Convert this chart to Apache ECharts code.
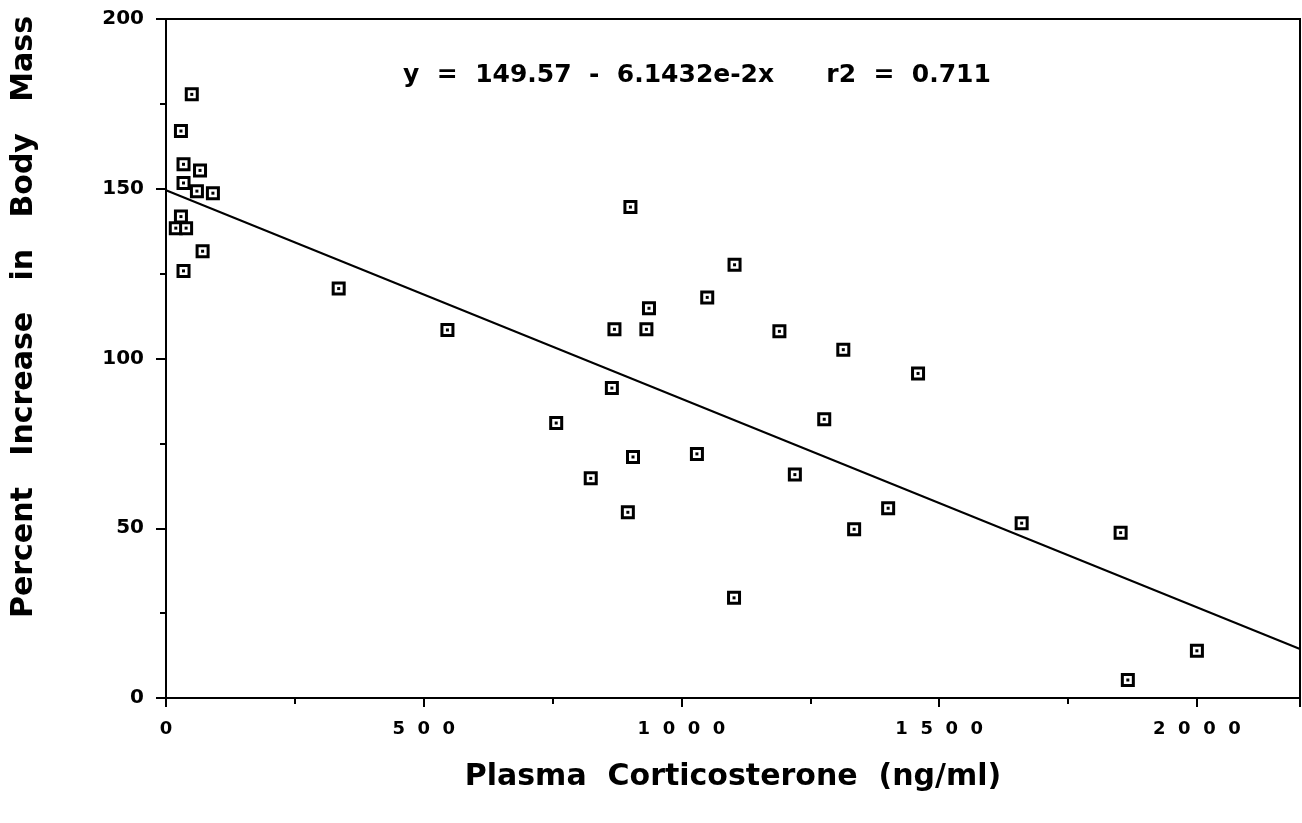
<!DOCTYPE html>
<html>
<head>
<meta charset="utf-8">
<script src="https://cdn.jsdelivr.net/npm/echarts@6/dist/echarts.min.js"></script>
<style>
  html, body { margin: 0; padding: 0; background: #fff; }
  #chart { width: 1302px; height: 823px; }
</style>
</head>
<body>
<div id="chart"></div>
<script>
// corticosterone (ng/ml) vs percent increase in body mass
var corticosterone = [50, 29, 34, 66, 34, 60, 91, 29, 19, 39, 71, 34, 335, 546,
  901, 1103, 1050, 937, 870, 932, 1190, 1314, 865, 757, 1277, 906, 1030, 824,
  1220, 1401, 1335, 896, 1102, 1459, 1660, 1852, 2000, 1866];
var massIncrease = [177.8, 167, 157.2, 155.4, 151.7, 149.3, 148.7, 141.8, 138.4, 138.4, 131.6, 125.8, 120.6, 108.4,
  144.6, 127.6, 118.0, 114.8, 108.6, 108.6, 108, 102.6, 91.3, 81, 82.1, 71, 71.9, 64.7,
  65.8, 55.9, 49.7, 54.7, 29.5, 95.6, 51.5, 48.7, 13.9, 5.3];
// regression line y = 149.57 - 6.1432e-2 x, endpoints
var fitX = [0, 2200];
var fitY = [149.57, 14.42];

var points = corticosterone.map(function (x, i) { return [x, massIncrease[i]]; });
var fitLine = fitX.map(function (x, i) { return [x, fitY[i]]; });

var chart = echarts.init(document.getElementById('chart'));
var font = '"DejaVu Sans", "Liberation Sans", Arial, sans-serif';

var option = {
  animation: false,
  grid: {
    left: 166, right: 2, top: 19, bottom: 125,
    show: true, borderColor: '#000', borderWidth: 2
  },
  xAxis: {
    type: 'value', min: 0, max: 2200, interval: 500,
    axisLine: { lineStyle: { color: '#000', width: 2 } },
    axisTick: { length: 9, lineStyle: { color: '#000', width: 2 } },
    minorTick: { show: true, splitNumber: 2, length: 6, lineStyle: { color: '#000', width: 2 } },
    splitLine: { show: false },
    axisLabel: {
      color: '#000', fontSize: 18, fontWeight: 'bold', fontFamily: font, margin: 22,
      showMaxLabel: false,
      formatter: function (v) { return String(v).split('').join('  '); }
    },
    name: 'Plasma  Corticosterone  (ng/ml)',
    nameLocation: 'middle', nameGap: 64,
    nameTextStyle: { color: '#000', fontSize: 30, fontWeight: 'bold', fontFamily: font }
  },
  yAxis: {
    type: 'value', min: 0, max: 200, interval: 50,
    axisLine: { lineStyle: { color: '#000', width: 2 } },
    axisTick: { length: 10, lineStyle: { color: '#000', width: 2 } },
    minorTick: { show: true, splitNumber: 2, length: 6, lineStyle: { color: '#000', width: 2 } },
    splitLine: { show: false },
    axisLabel: { color: '#000', fontSize: 20, fontWeight: 'bold', fontFamily: font, margin: 22 }
  },
  graphic: [
    {
      type: 'text', x: 24, y: 317, rotation: Math.PI / 2,
      style: {
        text: 'Percent   Increase   in   Body   Mass',
        font: 'bold 30px ' + font, fill: '#000', align: 'center', verticalAlign: 'middle'
      }
    },
    {
      type: 'text', x: 697, y: 75,
      style: {
        text: 'y  =  149.57  -  6.1432e-2x      r2  =  0.711',
        font: 'bold 25px ' + font, fill: '#000', align: 'center', verticalAlign: 'middle'
      }
    }
  ],
  series: [
    {
      type: 'line', data: fitLine, symbol: 'none',
      lineStyle: { color: '#000', width: 2 }, z: 1
    },
    {
      type: 'scatter', data: points, symbol: 'rect', symbolSize: 11,
      itemStyle: { color: '#fff', borderColor: '#000', borderWidth: 3, opacity: 1 }, z: 3
    },
    {
      type: 'scatter', data: points, symbol: 'rect', symbolSize: 3,
      itemStyle: { color: '#000', opacity: 1 }, z: 4
    }
  ]
};

chart.setOption(option);
</script>
</body>
</html>
